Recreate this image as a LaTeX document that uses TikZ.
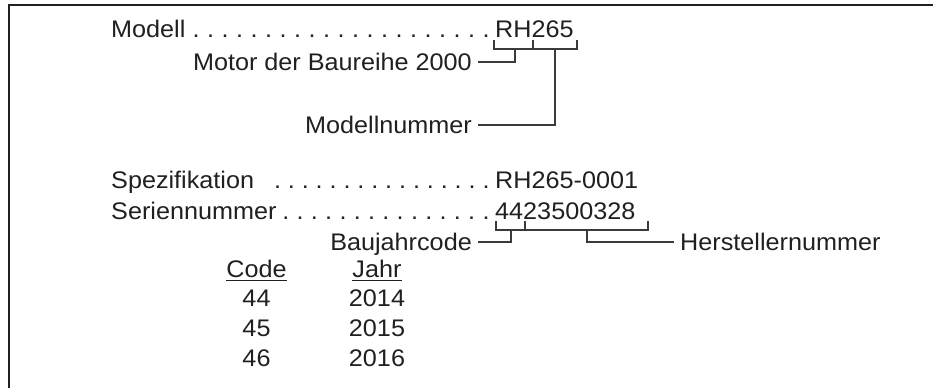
\documentclass[tikz,border=0pt]{standalone}
\usepackage{fontspec}
\setmainfont{Liberation Sans}[FakeStretch=1.05]
\definecolor{textc}{HTML}{231F20}
\definecolor{linec}{HTML}{3A3A3A}
\tikzset{
  txt/.style={inner sep=0pt, font=\fontsize{24}{28}\selectfont, text=textc},
  lbl/.style={txt, anchor=base west},
  rlbl/.style={txt, anchor=base east},
  ctr/.style={txt, anchor=base},
  brk/.style={draw=linec, line width=1.2pt},
  frame/.style={draw=textc, line width=1.6pt}
}
\begin{document}
\begin{tikzpicture}[x=1pt,y=-1pt]
\useasboundingbox (0,0) rectangle (933,388);
% frame (top and left only)
\coordinate (ftr) at (933,4.8);
\coordinate (ftl) at (9,4.8);
\coordinate (fbl) at (9,388);
\draw[frame] (ftr) -- (ftl) -- (fbl);

% Row 1: Modell
\node[lbl] (modell) at (111,37) {Modell};
\foreach \i in {0,...,20} \node[ctr] (da\i) at (486-14.5*\i,37) {.};
\node[lbl] (rh) at (495,37) {RH265};
% bracket under RH265
\coordinate (r1t) at (494,40); \coordinate (r1b) at (494,49);
\coordinate (r2t) at (533,40); \coordinate (r2b) at (533,49);
\coordinate (r3t) at (577,40); \coordinate (r3b) at (577,49);
\draw[brk] (r1t) -- (r1b) -- (r3b) -- (r3t);
\draw[brk] (r2t) -- (r2b);

\node[rlbl] (motor) at (472,70) {Motor der Baureihe 2000};
\coordinate (m1) at (478,62);
\coordinate (m2) at (515,62);
\coordinate (m3) at (515,49);
\draw[brk] (m1) -- (m2) -- (m3);

\node[rlbl] (mnr) at (472,133) {Modellnummer};
\coordinate (n1) at (478,125);
\coordinate (n2) at (555,125);
\coordinate (n3) at (555,49);
\draw[brk] (n1) -- (n2) -- (n3);

% Row: Spezifikation
\node[lbl] (spez) at (111,188) {Spezifikation};
\foreach \i in {0,...,15} \node[ctr] (db\i) at (486-13.9*\i,188) {.};
\node[lbl] (spezv) at (495,188) {RH265-0001};

% Row: Seriennummer
\node[lbl] (ser) at (111,219) {Seriennummer};
\foreach \i in {0,...,14} \node[ctr] (dc\i) at (486-14.3*\i,219) {.};
\node[lbl] (serv) at (495,219) {4423500328};
\coordinate (s1t) at (496,221); \coordinate (s1b) at (496,230);
\coordinate (s2t) at (525,221); \coordinate (s2b) at (525,230);
\coordinate (s3t) at (648,221); \coordinate (s3b) at (648,230);
\draw[brk] (s1t) -- (s1b) -- (s3b) -- (s3t);
\draw[brk] (s2t) -- (s2b);

\node[rlbl] (bj) at (472,250) {Baujahrcode};
\coordinate (b1) at (478,242);
\coordinate (b2) at (511,242);
\coordinate (b3) at (511,230);
\draw[brk] (b1) -- (b2) -- (b3);

\node[lbl] (hst) at (680,250) {Herstellernummer};
\coordinate (h1) at (587,230);
\coordinate (h2) at (587,242);
\coordinate (h3) at (674,242);
\draw[brk] (h1) -- (h2) -- (h3);

% table
\node[ctr] (code) at (256.5,277) {Code};
\node[ctr] (jahr) at (377,277) {Jahr};
\draw[draw=textc, line width=1.4pt] ([yshift=-3.5pt]code.base west) -- ([yshift=-3.5pt]code.base east);
\draw[draw=textc, line width=1.4pt] ([yshift=-3.5pt]jahr.base west) -- ([yshift=-3.5pt]jahr.base east);
\node[ctr] (c44) at (256.5,306) {44};
\node[ctr] (j14) at (377,306) {2014};
\node[ctr] (c45) at (256.5,336) {45};
\node[ctr] (j15) at (377,336) {2015};
\node[ctr] (c46) at (256.5,366) {46};
\node[ctr] (j16) at (377,366) {2016};
\end{tikzpicture}
\end{document}
